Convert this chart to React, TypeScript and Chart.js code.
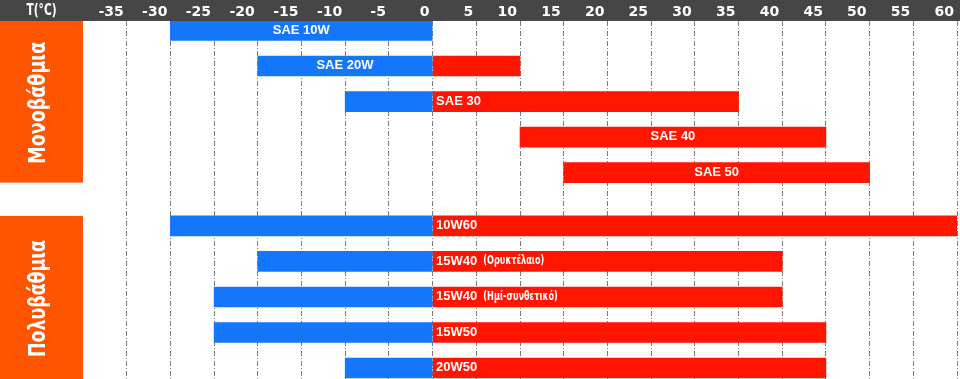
import { useEffect, useRef } from "react";
import { Chart, registerables } from "chart.js";

Chart.register(...registerables);

// ---- data ----
const categories = [
  "SAE 10W",
  "SAE 20W",
  "SAE 30",
  "SAE 40",
  "SAE 50",
  "10W60",
  "15W40 (Ορυκτέλαιο)",
  "15W40 (Ημί-συνθετικό)",
  "15W50",
  "20W50",
];
const rowPositions = [0, 1, 2, 3, 4, 5.5, 6.5, 7.5, 8.5, 9.5];
const coldStart: (number | null)[] = [-30, -20, -10, null, null, -30, -20, -25, -25, -10];
const coldEnd: (number | null)[] = [0, 0, 0, null, null, 0, 0, 0, 0, 0];
const hotStart: (number | null)[] = [null, 0, 0, 10, 15, 0, 0, 0, 0, 0];
const hotEnd: (number | null)[] = [null, 10, 35, 45, 50, 60, 40, 40, 45, 45];
const labelPlacement = [
  "cold-center",
  "cold-center",
  "hot-start",
  "hot-center",
  "hot-center",
  "hot-start",
  "hot-start",
  "hot-start",
  "hot-start",
  "hot-start",
];
const groupLabels = ["Μονοβάθμια", "Πολυβάθμια"];
const groupFirstRow = [0, 5];
const groupLastRow = [4, 9];
const axisTitle = "T(°C)";
const xMin = -40;
const xMax = 60;
const xStep = 5;

// ---- style ----
const BLUE = "#1477FA";
const RED = "#FF1500";
const ORANGE = "#FF5500";
const HEADER = "#464646";
const HEADER_H = 21;
const LEFT_W = 83;
const BAR_T = 20;
const SANS = '"Liberation Sans", Arial, sans-serif';
const DEJAVU = '"DejaVu Sans", sans-serif';

const coldData: any[] = [];
const coldRows: number[] = [];
const hotData: any[] = [];
const hotRows: number[] = [];
categories.forEach((_, i) => {
  if (coldStart[i] !== null && coldEnd[i] !== null) {
    coldRows.push(i);
    coldData.push({ x: [coldStart[i], coldEnd[i]], y: rowPositions[i] });
  }
  if (hotStart[i] !== null && hotEnd[i] !== null) {
    hotRows.push(i);
    hotData.push({ x: [hotStart[i], hotEnd[i]], y: rowPositions[i] });
  }
});

const headerPlugin = {
  id: "header",
  beforeDraw(chart: any) {
    const { ctx, width } = chart;
    ctx.save();
    ctx.fillStyle = HEADER;
    ctx.fillRect(0, 0, width, HEADER_H);
    ctx.restore();
  },
};

const labelsPlugin = {
  id: "barLabels",
  afterDatasetsDraw(chart: any) {
    const { ctx } = chart;
    const coldMeta = chart.getDatasetMeta(0);
    const hotMeta = chart.getDatasetMeta(1);
    ctx.save();
    ctx.fillStyle = "#ffffff";
    ctx.textBaseline = "middle";
    categories.forEach((label, i) => {
      const mode = labelPlacement[i];
      let el: any;
      if (mode.startsWith("cold")) el = coldMeta.data[coldRows.indexOf(i)];
      else el = hotMeta.data[hotRows.indexOf(i)];
      if (!el) return;
      const y = el.y - 0.5;
      const left = Math.min(el.x, el.base);
      const right = Math.max(el.x, el.base);
      const parts = label.split(" (");
      const main = parts[0];
      const extra = parts.length > 1 ? "(" + parts.slice(1).join(" (") : "";
      const mainFont = `bold 13px ${SANS}`;
      const extraFont = `bold 13px ${DEJAVU}`;
      const squeeze = 0.63;
      ctx.font = mainFont;
      const wMain = ctx.measureText(main).width;
      ctx.font = extraFont;
      const wExtra = extra ? ctx.measureText(extra).width * squeeze : 0;
      const gap = extra ? 6 : 0;
      const total = wMain + gap + wExtra;
      let x0: number;
      if (mode.endsWith("center")) x0 = (left + right) / 2 - total / 2;
      else x0 = left + 3;
      ctx.textAlign = "left";
      ctx.font = mainFont;
      ctx.fillText(main, x0, y);
      if (extra) {
        ctx.save();
        ctx.font = extraFont;
        ctx.translate(x0 + wMain + gap, y);
        ctx.scale(squeeze, 1);
        ctx.fillText(extra, 0, 0);
        ctx.restore();
      }
    });
    ctx.restore();
  },
};

const groupsPlugin = {
  id: "groups",
  afterDraw(chart: any) {
    const { ctx } = chart;
    const yScale = chart.scales.y;
    ctx.save();
    groupLabels.forEach((g, k) => {
      const top = Math.max(HEADER_H, yScale.getPixelForValue(rowPositions[groupFirstRow[k]]) - BAR_T / 2);
      let bottom = yScale.getPixelForValue(rowPositions[groupLastRow[k]]) + BAR_T / 2;
      if (k === groupLabels.length - 1) bottom = chart.height;
      ctx.fillStyle = ORANGE;
      ctx.fillRect(0, top, LEFT_W, bottom - top);
      ctx.save();
      ctx.translate(LEFT_W / 2 - 2, (top + bottom) / 2 + 1);
      ctx.rotate(-Math.PI / 2);
      ctx.fillStyle = "#ffffff";
      ctx.font = `bold 23px ${DEJAVU}`;
      ctx.textAlign = "center";
      ctx.textBaseline = "middle";
      const w = ctx.measureText(g).width;
      const target = k === 0 ? 122 : 117;
      ctx.scale(target / w, 1);
      ctx.fillText(g, 0, 0);
      ctx.restore();
    });
    ctx.fillStyle = "#ffffff";
    ctx.font = `bold 15px ${DEJAVU}`;
    ctx.textAlign = "center";
    ctx.textBaseline = "middle";
    ctx.save();
    ctx.translate(LEFT_W / 2, 11.5);
    const tw = ctx.measureText(axisTitle).width;
    ctx.scale(30 / tw, 1);
    ctx.fillText(axisTitle, 0, 0);
    ctx.restore();
    ctx.restore();
  },
};

export default function App() {
  const ref = useRef<HTMLCanvasElement>(null);
  useEffect(() => {
    document.body.style.margin = "0";
    const canvas = ref.current!;
    const chart = new Chart(canvas, {
      type: "bar",
      data: {
        datasets: [
          { label: "cold", data: coldData, backgroundColor: BLUE, barThickness: BAR_T, grouped: false } as any,
          { label: "hot", data: hotData, backgroundColor: RED, barThickness: BAR_T, grouped: false } as any,
        ],
      },
      options: {
        indexAxis: "y",
        animation: false,
        responsive: false,
        layout: { padding: { left: LEFT_W, right: 3, top: 0, bottom: 0 } },
        plugins: { legend: { display: false }, tooltip: { enabled: false } },
        scales: {
          x: {
            type: "linear",
            position: "top",
            min: xMin,
            max: xMax,
            offset: false,
            afterFit: (s: any) => {
              s.height = HEADER_H;
            },
            ticks: {
              stepSize: xStep,
              align: "end",
              labelOffset: -3,
              padding: 0,
              color: "#ffffff",
              autoSkip: false,
              maxRotation: 0,
              font: { family: DEJAVU, size: 14, weight: "bold" },
              callback: (v: any) => (Number(v) === xMin ? "" : String(v)),
            },
            grid: {
              drawTicks: false,
              lineWidth: 1,
              color: (c: any) => (c.tick && c.tick.value === xMin ? "rgba(0,0,0,0)" : "#7c7c7c"),
            },
            border: { display: false, dash: [5, 2, 1, 2] },
          } as any,
          y: {
            type: "linear",
            reverse: true,
            offset: false,
            min: -0.2674,
            max: 9.809,
            display: false,
          } as any,
        },
      },
      plugins: [headerPlugin, labelsPlugin, groupsPlugin],
    });
    return () => chart.destroy();
  }, []);
  return <canvas ref={ref} width={960} height={379} style={{ display: "block" }} />;
}
